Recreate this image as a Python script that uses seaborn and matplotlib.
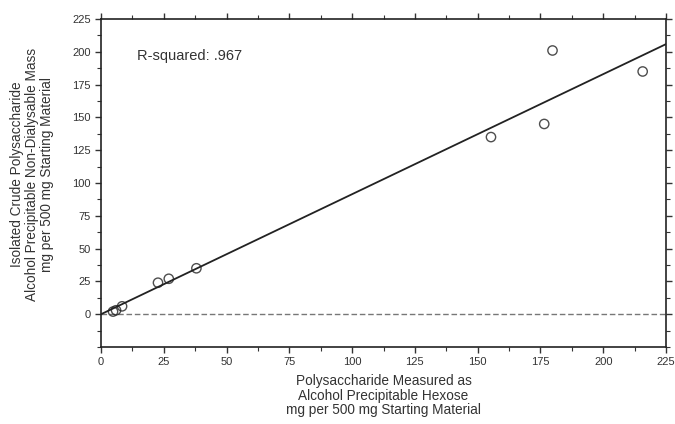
import numpy as np
import pandas as pd
import matplotlib
matplotlib.use("Agg")
import matplotlib.pyplot as plt
import seaborn as sns
from matplotlib.ticker import MultipleLocator

# values
hexose = [4.8, 6.0, 8.4, 22.7, 27.0, 38.0, 155.3, 176.5, 179.8, 215.7]
crude_mass = [2, 3, 6, 24, 27, 35, 135, 145, 201, 185]
ticks = [0, 25, 50, 75, 100, 125, 150, 175, 200, 225]
r2_label = "R-squared: .967"

df = pd.DataFrame({"hexose": hexose, "mass": crude_mass})

sns.set_style("ticks")
plt.rcParams["font.family"] = ["Liberation Sans", "DejaVu Sans"]
txt = "#333333"

fig = plt.figure(figsize=(6.75, 4.24), dpi=100)
ax = fig.add_axes([0.1496, 0.1816, 0.8371, 0.7736])

# dashed zero line
ax.axhline(0, color="#777777", lw=1.0, ls=(0, (4, 2)), zorder=1)
sns.regplot(data=df, x="hexose", y="mass", ci=None, truncate=False, ax=ax,
            marker="o",
            scatter_kws={"facecolors": "none", "edgecolors": "#222222", "s": 45, "linewidths": 1.0},
            line_kws={"color": "#222222", "lw": 1.3})

ax.set_xlim(0, 225)
ax.set_ylim(-25, 225)
ax.set_xticks(ticks)
ax.set_yticks(ticks)
ax.xaxis.set_minor_locator(MultipleLocator(12.5))
ax.yaxis.set_minor_locator(MultipleLocator(12.5))
ax.tick_params(which="both", top=True, right=True, direction="out", colors="#333333",
               labelsize=8, labelcolor=txt)
ax.tick_params(which="major", length=4, width=1)
ax.tick_params(which="minor", length=3, width=0.8)
for s in ax.spines.values():
    s.set_color("#222222")
    s.set_linewidth(1.2)

ax.set_xlabel("Polysaccharide Measured as\nAlcohol Precipitable Hexose\nmg per 500 mg Starting Material",
              fontsize=9.8, color=txt, labelpad=5, linespacing=1.05)
ax.set_ylabel("Isolated Crude Polysaccharide\nAlcohol Precipitable Non-Dialysable Mass\nmg per 500 mg Starting Material",
              fontsize=9.8, color=txt, linespacing=1.1)
ax.yaxis.set_label_coords(-0.122, 0.527)
ax.yaxis.label.set_va("center")
ax.text(14.3, 197, r2_label, fontsize=10.5, color=txt, va="center", ha="left")

fig.savefig("out.png", dpi=100)
